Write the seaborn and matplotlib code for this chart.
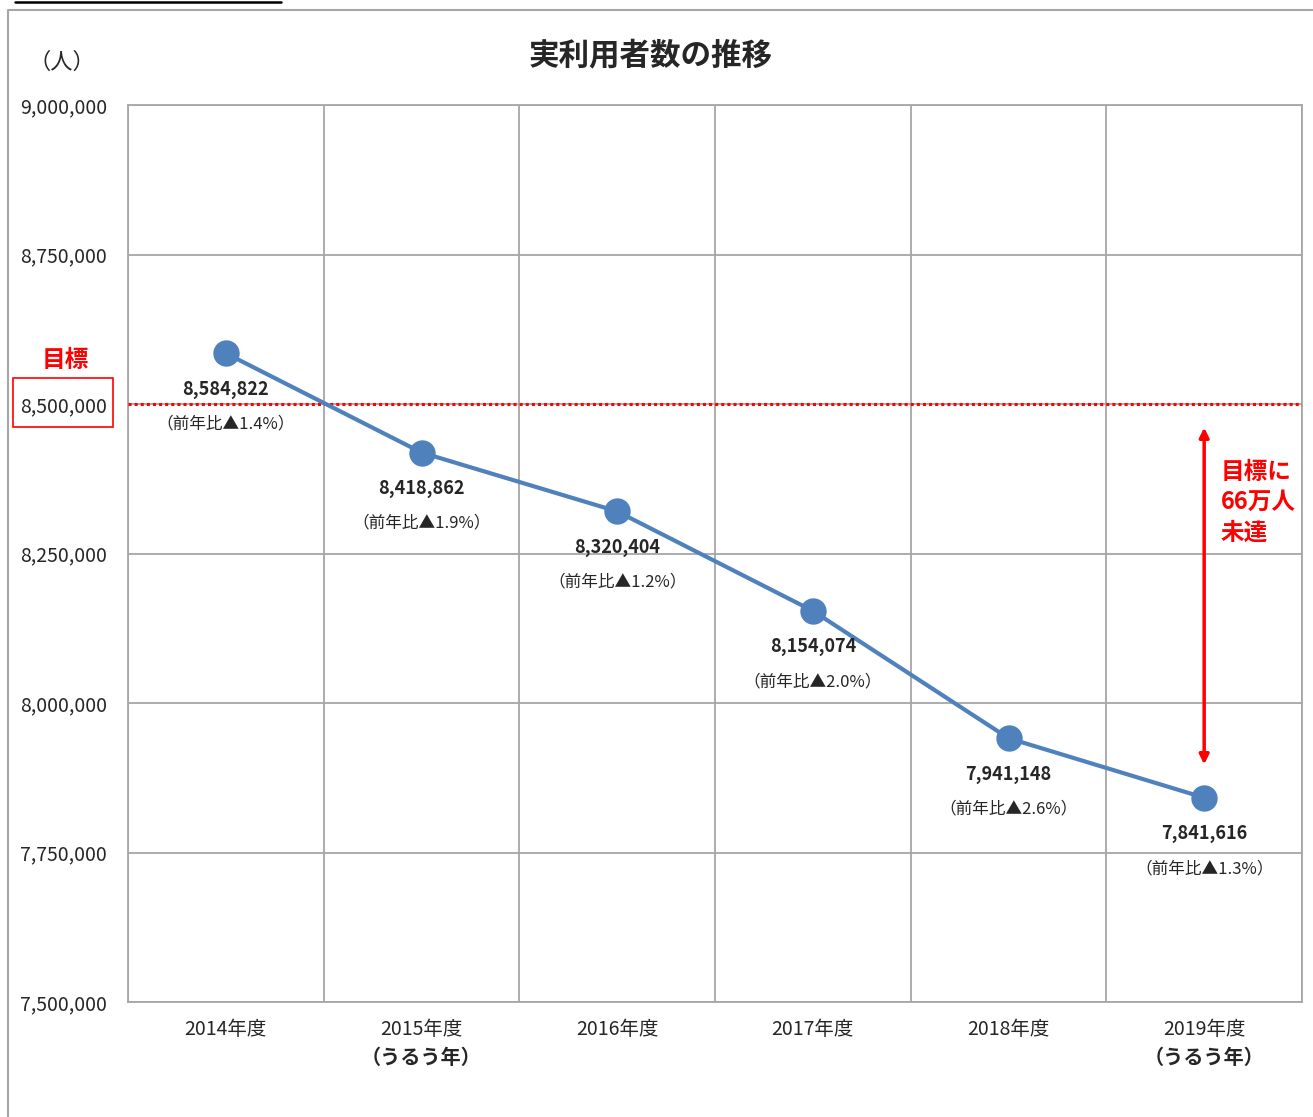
import numpy as np
import pandas as pd
import matplotlib.pyplot as plt
import matplotlib.patches as patches
from matplotlib.lines import Line2D
import seaborn as sns

# data
years = ["2014年度", "2015年度", "2016年度", "2017年度", "2018年度", "2019年度"]
leap_year = [False, True, False, False, False, True]
users = [8584822, 8418862, 8320404, 8154074, 7941148, 7841616]
yoy_change = ["1.4%", "1.9%", "1.2%", "2.0%", "2.6%", "1.3%"]
target = 8500000
y_ticks = [7500000, 7750000, 8000000, 8250000, 8500000, 8750000, 9000000]

df = pd.DataFrame({"year": years, "users": users, "pos": np.arange(len(years))})

sns.set_style("white")
plt.rcParams["font.family"] = ["Noto Sans CJK JP", "DejaVu Sans"]

W, H = 1313, 1117
fig = plt.figure(figsize=(W / 100, H / 100), dpi=100)
ax = fig.add_axes([128 / W, 1 - 1002 / H, (1302 - 128) / W, (1002 - 105) / H])

grid_gray = "#a6a6a6"
blue = "#4f81bd"

sns.lineplot(data=df, x="pos", y="users", ax=ax, color=blue, linewidth=3.0,
             marker="o", markersize=19, markeredgewidth=0, zorder=5)

ax.set_xlim(-0.5, len(years) - 0.5)
ax.set_ylim(y_ticks[0], y_ticks[-1])
ax.set_yticks(y_ticks)
ax.set_yticklabels([f"{v:,}" for v in y_ticks], fontsize=14)
ax.set_xticks(df["pos"])
ax.set_xticklabels(years, fontsize=14)
ax.set_xticks(np.arange(-0.5, len(years)), minor=True)
ax.tick_params(axis="x", which="major", length=0, pad=12)
ax.tick_params(axis="x", which="minor", length=6, color=grid_gray, width=1.2)
ax.tick_params(axis="y", length=8, color=grid_gray, width=1.2, pad=7)
ax.set_xlabel("")
ax.set_ylabel("")

ax.grid(True, axis="y", which="major", color=grid_gray, linewidth=1.3)
ax.grid(True, axis="x", which="minor", color=grid_gray, linewidth=1.3)
for sp in ax.spines.values():
    sp.set_color(grid_gray)
    sp.set_linewidth(1.3)

# leap-year note under tick labels
for i, leap in enumerate(leap_year):
    if leap:
        ax.annotate("（うるう年）", xy=(i, 0), xycoords=("data", "axes fraction"),
                    xytext=(0, -40), textcoords="offset points",
                    ha="center", va="center", fontsize=14.5, fontweight="bold")

# data labels
for i, (v, c) in enumerate(zip(users, yoy_change)):
    ax.annotate(f"{v:,}", xy=(i, v), xytext=(0, -26), textcoords="offset points",
                ha="center", va="center", fontsize=13, fontweight="bold", zorder=6)
    ax.annotate(f"（前年比▲{c}）", xy=(i, v), xytext=(0, -51), textcoords="offset points",
                ha="center", va="center", fontsize=12, zorder=6)

# target line
ax.axhline(target, color="red", linestyle=(0, (1, 1)), linewidth=2.2, zorder=4)

# gap arrow
ax.annotate("", xy=(len(years) - 1, target), xytext=(len(years) - 1, users[-1]),
            arrowprops=dict(arrowstyle="<|-|>", color="red", lw=2.5,
                            mutation_scale=14, shrinkA=24, shrinkB=17),
            zorder=6)
ax.annotate("目標に\n66万人\n未達", xy=(len(years) - 1, target), xytext=(12, -40),
            textcoords="offset points", ha="left", va="top", color="red",
            fontsize=17, fontweight="bold", linespacing=1.35)

# title, unit, target label
fig.text(651 / W, 1 - 55 / H, "実利用者数の推移", ha="center", va="center",
         fontsize=22, fontweight="bold")
fig.text(62 / W, 1 - 62 / H, "（人）", ha="center", va="center", fontsize=16)
fig.text(65 / W, 1 - 360 / H, "目標", ha="center", va="center", color="red",
         fontsize=17, fontweight="bold")
fig.patches.append(patches.Rectangle((13 / W, 1 - 427 / H), 100 / W, 49 / H,
                                     transform=fig.transFigure, fill=False,
                                     edgecolor="red", linewidth=1.2))

# outer frame and top rule
fig.add_artist(Line2D([8 / W, 8 / W, 1], [0, 1 - 10 / H, 1 - 10 / H],
                      transform=fig.transFigure, color=grid_gray, linewidth=1.5))
fig.add_artist(Line2D([15 / W, 281 / W], [1 - 2 / H, 1 - 2 / H],
                      transform=fig.transFigure, color="black", linewidth=1.8))

fig.savefig("out.png", dpi=100)
